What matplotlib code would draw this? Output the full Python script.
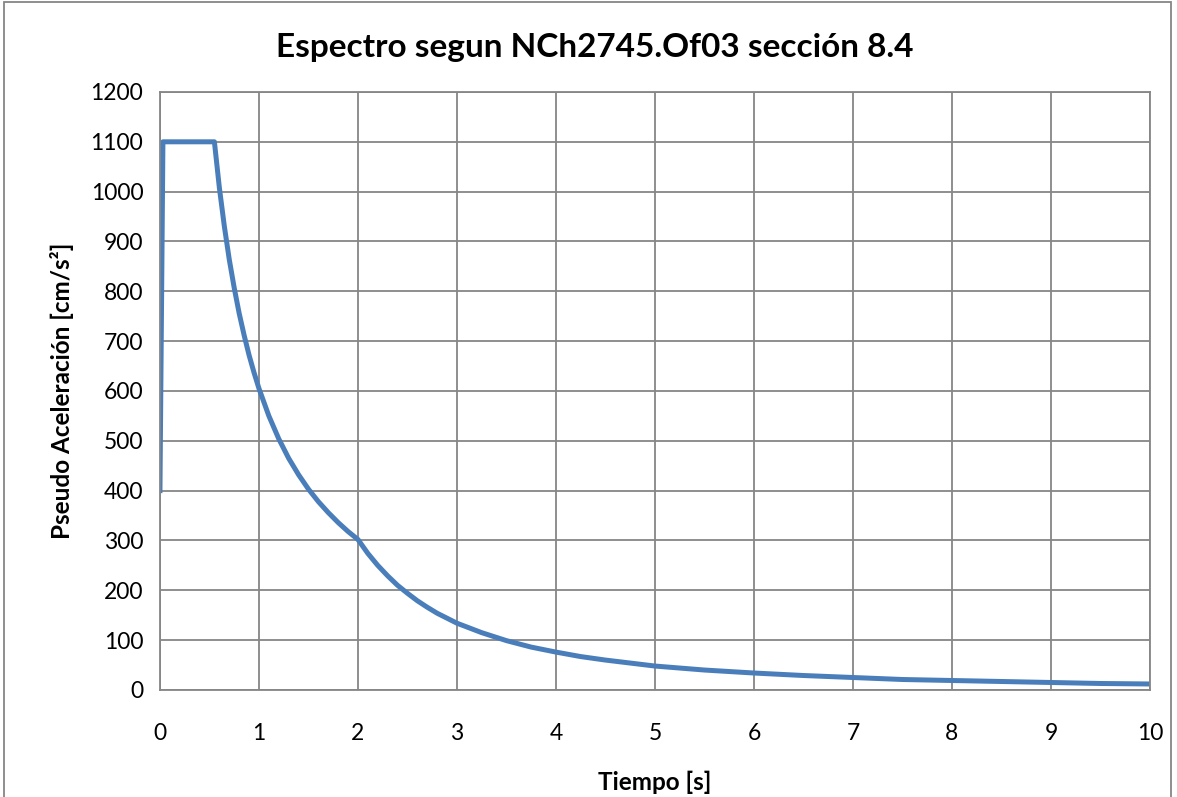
import matplotlib.pyplot as plt
from matplotlib.patches import Rectangle

# periodo [s] y pseudo aceleracion [cm/s2]
periodo = [0.0, 0.03, 0.55, 0.6, 0.65, 0.7, 0.75, 0.8, 0.85, 0.9, 0.95, 1.0,
           1.1, 1.2, 1.3, 1.4, 1.5, 1.6, 1.7, 1.8, 1.9, 2.0,
           2.1, 2.2, 2.3, 2.4, 2.5, 2.6, 2.7, 2.8, 2.9, 3.0, 3.25, 3.5, 3.75,
           4.0, 4.25, 4.5, 4.75, 5.0, 5.5, 6.0, 6.5, 7.0,
           7.5, 8.0, 8.5, 9.0, 9.5, 10.0]
pseudo_acel = [400, 1100, 1100, 1008, 931, 864, 807, 756, 712, 672, 637, 605,
               550, 504, 465, 432, 403, 378, 356, 336, 318, 302,
               274, 250, 229, 210, 194, 179, 166, 154, 144, 134, 115, 99, 86,
               76, 67, 60, 54, 48, 40, 34, 29, 25,
               21, 19, 17, 15, 13, 12]

x_ticks = list(range(0, 11))
y_ticks = list(range(0, 1201, 100))

plt.rcParams['font.family'] = ['Lato', 'DejaVu Sans']

fig = plt.figure(figsize=(11.77, 7.97), dpi=100)
ax = fig.add_axes([0.1359, 0.1343, 0.977 - 0.1359, 0.8846 - 0.1343])

gris = '#868686'
ax.plot(periodo, pseudo_acel, color='#4A7EBB', lw=3.6, solid_joinstyle='round')

ax.set_xlim(0, 10)
ax.set_ylim(0, 1200)
ax.set_xticks(x_ticks)
ax.set_yticks(y_ticks)
ax.grid(True, color=gris, lw=1.3)
ax.set_axisbelow(True)
for s in ax.spines.values():
    s.set_color(gris)
    s.set_linewidth(1.3)
ax.tick_params(length=0, labelsize=16.5)
ax.tick_params(axis='x', pad=24)
ax.tick_params(axis='y', pad=12)

fig.text(0.505, 0.94, 'Espectro segun NCh2745.Of03 sección 8.4', fontsize=24,
         fontweight='bold', ha='center', va='center')
ax.set_xlabel('Tiempo [s]', fontsize=17.5, fontweight='bold', labelpad=19)
ax.set_ylabel('Pseudo Aceleración [cm/s²]', fontsize=17.5, fontweight='bold',
              labelpad=12)

# marco del grafico
fig.patches.append(Rectangle((0.003, -0.05), 0.992, 1.047, transform=fig.transFigure,
                             fill=False, edgecolor=gris, lw=1.3))

plt.savefig('out.png', dpi=100)
